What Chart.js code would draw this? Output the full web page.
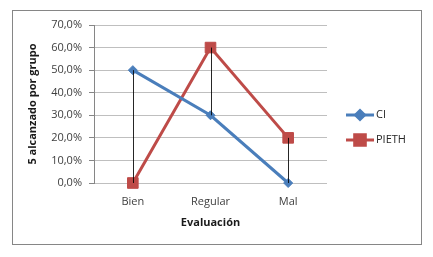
<!DOCTYPE html>
<html lang="es">
<head>
<meta charset="UTF-8">
<title>Evaluación</title>
<script src="https://cdn.jsdelivr.net/npm/chart.js@4.4.1/dist/chart.umd.min.js"></script>
<style>
  body { margin: 0; background: #fff; }
  canvas { display: block; }
</style>
</head>
<body>
<canvas id="chart" width="433" height="257"></canvas>
<script>
// data (percent)
const categories = ['Bien', 'Regular', 'Mal'];
const ciValues = [50, 30, 0];
const piethValues = [0, 60, 20];
const yTicksMax = 70;
const yTicksStep = 10;

const BLUE = '#4a7ebb';
const RED = '#be4b48';
const FONT = "'Open Sans', 'Liberation Sans', sans-serif";

// border round the whole chart
const frame = {
  id: 'frame',
  beforeDraw(chart) {
    const ctx = chart.ctx;
    ctx.save();
    ctx.fillStyle = '#fff';
    ctx.fillRect(0, 0, chart.width, chart.height);
    ctx.strokeStyle = '#868686';
    ctx.lineWidth = 1;
    ctx.strokeRect(12.5, 10.5, 409, 234);
    ctx.restore();
  }
};

// excel style high-low lines between the two series
const dropLines = {
  id: 'dropLines',
  afterDatasetsDraw(chart) {
    const ctx = chart.ctx;
    const x = chart.scales.x, y = chart.scales.y;
    ctx.save();
    ctx.strokeStyle = 'rgba(0,0,0,0.85)';
    ctx.lineWidth = 1;
    categories.forEach((c, i) => {
      const px = Math.round(x.getPixelForValue(i)) + 0.5;
      ctx.beginPath();
      ctx.moveTo(px, y.getPixelForValue(ciValues[i]));
      ctx.lineTo(px, y.getPixelForValue(piethValues[i]));
      ctx.stroke();
    });
    ctx.restore();
  }
};

// legend on the right: line with marker, then label
const sideLegend = {
  id: 'sideLegend',
  afterDraw(chart) {
    const ctx = chart.ctx;
    const rows = [
      { label: 'CI', color: BLUE, style: 'rectRot', r: 4.5, y: 115 },
      { label: 'PIETH', color: RED, style: 'rect', r: 7.5, y: 140 }
    ];
    ctx.save();
    rows.forEach(row => {
      ctx.strokeStyle = row.color;
      ctx.lineWidth = 3;
      ctx.beginPath();
      ctx.moveTo(346, row.y);
      ctx.lineTo(374, row.y);
      ctx.stroke();
      ctx.fillStyle = row.color;
      ctx.strokeStyle = row.color;
      Chart.helpers.drawPoint(ctx, { pointStyle: row.style, radius: row.r, rotation: 0, borderWidth: 1 }, 360, row.y);
      ctx.fillStyle = '#262626';
      ctx.font = '11px ' + FONT;
      ctx.textBaseline = 'middle';
      ctx.textAlign = 'left';
      ctx.fillText(row.label, 376, row.y);
    });
    ctx.restore();
  }
};

new Chart(document.getElementById('chart'), {
  type: 'line',
  data: {
    labels: categories,
    datasets: [
      {
        label: 'CI',
        data: ciValues,
        borderColor: BLUE,
        backgroundColor: BLUE,
        borderWidth: 3,
        pointStyle: 'rectRot',
        pointRadius: 4.5,
        pointBorderWidth: 1,
        tension: 0,
        clip: false
      },
      {
        label: 'PIETH',
        data: piethValues,
        borderColor: RED,
        backgroundColor: RED,
        borderWidth: 3,
        pointStyle: 'rect',
        pointRadius: 7.5,
        pointBorderWidth: 1,
        tension: 0,
        clip: false
      }
    ]
  },
  options: {
    responsive: false,
    animation: false,
    devicePixelRatio: 1,
    layout: { padding: { left: 0, top: 25, right: 106, bottom: 0 } },
    plugins: {
      legend: { display: false },
      tooltip: { enabled: false }
    },
    scales: {
      x: {
        offset: true,
        grid: { display: false },
        border: { display: false },
        ticks: { color: '#404040', padding: 4, font: { family: FONT, size: 11 } },
        title: {
          display: true,
          text: 'Evaluación',
          color: '#1a1a1a',
          font: { family: FONT, size: 11, weight: 'bold' },
          padding: { top: 0, bottom: 28 }
        },
        afterFit(scale) { scale.height = 74; }
      },
      y: {
        min: 0,
        max: yTicksMax,
        ticks: {
          stepSize: yTicksStep,
          color: '#404040',
          padding: 7,
          font: { family: FONT, size: 11 },
          callback: v => v.toFixed(1).replace('.', ',') + '%'
        },
        grid: { color: '#bfbfbf', tickColor: '#868686', tickLength: 5 },
        border: { color: '#868686' },
        title: {
          display: true,
          text: '5 alcanzado por grupo',
          color: '#1a1a1a',
          font: { family: FONT, size: 11, weight: 'bold' },
          padding: { top: 26, bottom: 0 }
        },
        afterFit(scale) { scale.width = 94; }
      }
    }
  },
  plugins: [frame, dropLines, sideLegend]
});
</script>
</body>
</html>
